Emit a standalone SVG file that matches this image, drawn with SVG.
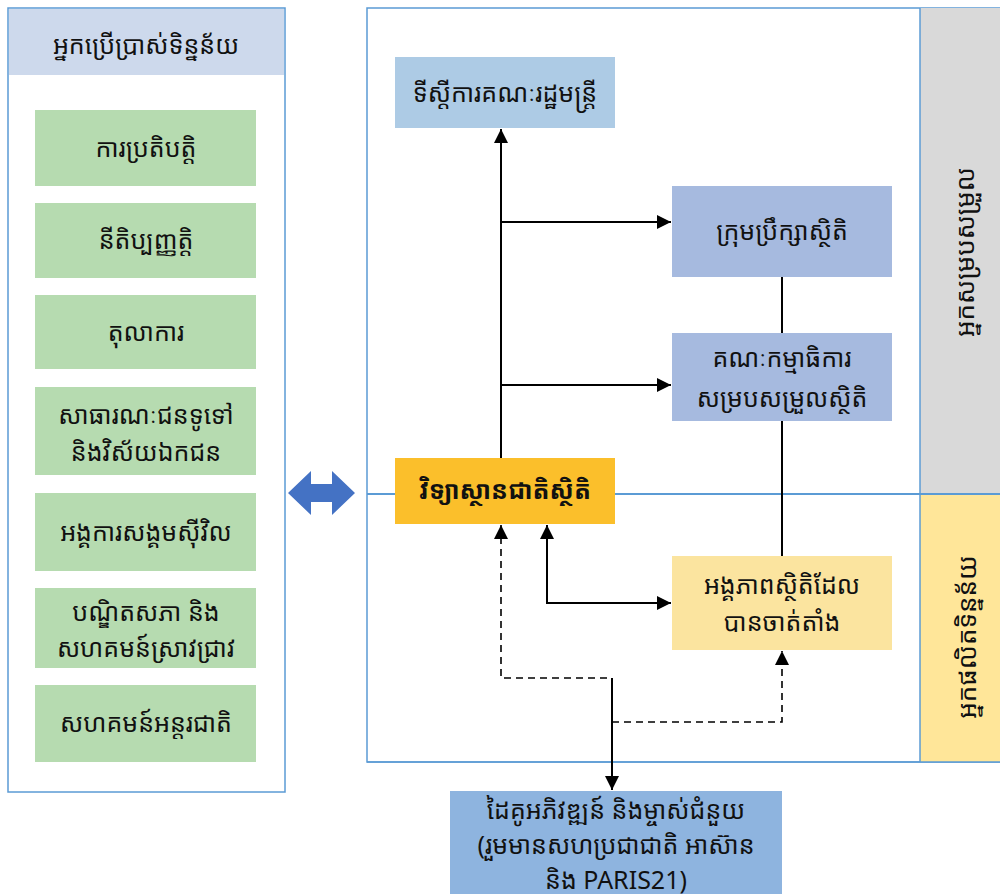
<svg xmlns="http://www.w3.org/2000/svg" width="1000" height="894" viewBox="0 0 1000 894">
<defs>
<style>
text{font-family:"Noto Sans Khmer","Khmer OS","Khmer OS System","Noto Sans",sans-serif;font-size:25px;fill:#111;text-anchor:middle;}
.panel{fill:#fff;stroke:#5B9BD5;stroke-width:1.5;}
.green{fill:#B6DBB0;}
.ln{stroke:#000;stroke-width:2;fill:none;}
.dash{stroke:#000;stroke-width:1.6;fill:none;stroke-dasharray:7,5;}
.vt{font-size:26px;}
</style>
<marker id="ahb" viewBox="0 0 10 10" refX="10" refY="5" markerWidth="14" markerHeight="14" markerUnits="userSpaceOnUse" orient="auto-start-reverse">
<path d="M0,0 L10,5 L0,10 z" fill="#000"/>
</marker>
</defs>
<rect width="1000" height="894" fill="#fff"/>

<g id="users-panel">
<rect class="panel" x="8" y="8" width="277" height="784"/>
<rect x="9" y="9" width="275" height="66" fill="#CDD9EC"/>
<text x="146" y="54">អ្នកប្រើប្រាស់ទិន្នន័យ</text>
</g>
<g id="u1"><rect class="green" x="35" y="110" width="221" height="76"/><text x="146" y="157">ការប្រតិបត្តិ</text></g>
<g id="u2"><rect class="green" x="35" y="203" width="221" height="75"/><text x="146" y="249">នីតិប្បញ្ញត្តិ</text></g>
<g id="u3"><rect class="green" x="35" y="295" width="221" height="74"/><text x="146" y="341">តុលាការ</text></g>
<g id="u4"><rect class="green" x="35" y="387" width="221" height="88"/><text x="146" y="424">សាធារណៈជនទូទៅ</text><text x="146" y="461">និងវិស័យឯកជន</text></g>
<g id="u5"><rect class="green" x="35" y="493" width="221" height="78"/><text x="146" y="541">អង្គការសង្គមស៊ីវិល</text></g>
<g id="u6"><rect class="green" x="35" y="588" width="221" height="80"/><text x="146" y="621">បណ្ឌិតសភា និង</text><text x="146" y="657">សហគមន៍ស្រាវជ្រាវ</text></g>
<g id="u7"><rect class="green" x="35" y="685" width="221" height="77"/><text x="146" y="732">សហគមន៍អន្តរជាតិ</text></g>

<g id="double-arrow">
<path d="M288,493 L311,471 L311,484 L332,484 L332,471 L355,493 L332,515 L332,502 L311,502 L311,515 Z" fill="#4472C4"/>
</g>

<g id="main-panel">
<rect class="panel" x="367" y="8" width="633" height="754"/>
<rect x="920" y="8" width="80" height="486" fill="#D9D9D9"/>
<rect x="920" y="494" width="80" height="268" fill="#FFE699"/>
<line x1="920" y1="8" x2="920" y2="762" stroke="#5B9BD5" stroke-width="1.5"/>
<line x1="367" y1="494" x2="1000" y2="494" stroke="#5B9BD5" stroke-width="2"/>
<line x1="367" y1="762" x2="1000" y2="762" stroke="#5B9BD5" stroke-width="1.5"/>
</g>
<g id="coordinators-label"><text class="vt" transform="translate(974,252) rotate(-90)">អ្នកសម្របសម្រួល</text></g>
<g id="producers-label"><text class="vt" transform="translate(976,637) rotate(-90)">អ្នកផលិតទិន្នន័យ</text></g>

<g id="connectors">
<line class="ln" x1="501" y1="458" x2="501" y2="129" marker-end="url(#ahb)"/>
<line class="ln" x1="501" y1="222" x2="671" y2="222" marker-end="url(#ahb)"/>
<line class="ln" x1="501" y1="385" x2="671" y2="385" marker-end="url(#ahb)"/>
<line class="ln" x1="782" y1="277" x2="782" y2="556"/>
<polyline class="ln" points="547,525 547,603 671,603" marker-start="url(#ahb)" marker-end="url(#ahb)"/>
<polyline class="dash" points="501,525 501,678 612,678" marker-start="url(#ahb)"/>
<line class="ln" x1="612" y1="678" x2="612" y2="790" marker-end="url(#ahb)"/>
<polyline class="dash" points="612,722 782,722 782,651" marker-end="url(#ahb)"/>
</g>

<g id="n-cabinet"><rect x="395" y="57" width="220" height="71" fill="#ADCBE5"/><text x="505" y="102">ទីស្តីការគណៈរដ្ឋមន្ត្រី</text></g>
<g id="n-council"><rect x="672" y="186" width="220" height="91" fill="#A6BADF"/><text x="782" y="240">ក្រុមប្រឹក្សាស្ថិតិ</text></g>
<g id="n-committee"><rect x="672" y="333" width="220" height="88" fill="#A6BADF"/><text x="782" y="367">គណៈកម្មាធិការ</text><text x="782" y="407">សម្របសម្រួលស្ថិតិ</text></g>
<g id="n-nis"><rect x="395" y="458" width="220" height="66" fill="#FBBF2B"/><text x="505" y="499" font-weight="bold" font-size="23">វិទ្យាស្ថានជាតិស្ថិតិ</text></g>
<g id="n-units"><rect x="672" y="556" width="220" height="94" fill="#FBE49F"/><text x="782" y="594">អង្គភាពស្ថិតិដែល</text><text x="782" y="631">បានចាត់តាំង</text></g>
<g id="n-partners"><rect x="450" y="791" width="332" height="103" fill="#8EB4DF"/><text x="616" y="819">ដៃគូអភិវឌ្ឍន៍ និងម្ចាស់ជំនួយ</text><text x="616" y="854">(រួមមានសហប្រជាជាតិ អាស៊ាន</text><text x="616" y="889">និង PARIS21)</text></g>
</svg>
